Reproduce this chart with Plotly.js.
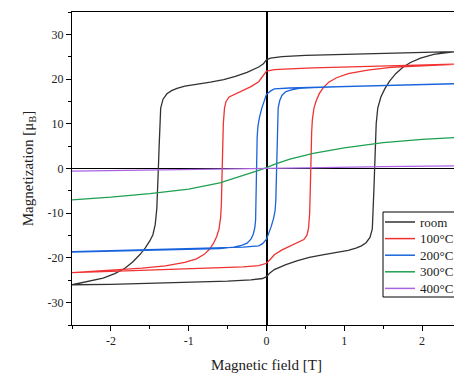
<!DOCTYPE html>
<html>
<head>
<meta charset="utf-8">
<script src="https://cdn.plot.ly/plotly-3.0.1.min.js"></script>
<style>
html, body { margin: 0; padding: 0; overflow: hidden; background: #fff; }
#chart { width: 461px; height: 373px; }
</style>
</head>
<body>
<div id="chart"></div>
<script>
// ---- data (field in T, magnetization in μB) ----
const seriesNames = ["room", "100°C", "200°C", "300°C", "400°C"];

// room temperature loop: descending branch then ascending branch
const roomDownH = [2.5, 2.0, 1.5, 1.0, 0.5, 0.2, 0.05, 0.0, -0.04, -0.1, -0.25, -0.4, -0.55, -0.72, -0.9, -1.05, -1.15, -1.22, -1.28, -1.33, -1.36, -1.37, -1.38, -1.39, -1.40, -1.41, -1.43, -1.46, -1.50, -1.56, -1.63, -1.72, -1.82, -1.95, -2.1, -2.3, -2.5];
const roomDownM = [26.2, 26.0, 25.8, 25.6, 25.3, 25.0, 24.7, 24.3, 23.4, 22.7, 21.5, 20.6, 19.9, 19.3, 18.9, 18.4, 17.9, 17.4, 16.7, 15.5, 13.5, 10.5, 5, 0, -5, -9, -12.5, -14.8, -16.2, -17.8, -19.3, -20.9, -22.3, -23.5, -24.5, -25.3, -26.0];
const roomUpH = [-2.5, -2.0, -1.5, -1.0, -0.5, -0.2, -0.05, 0.0, 0.04, 0.1, 0.25, 0.4, 0.55, 0.72, 0.9, 1.05, 1.15, 1.22, 1.28, 1.33, 1.36, 1.37, 1.38, 1.39, 1.40, 1.41, 1.43, 1.47, 1.52, 1.58, 1.66, 1.75, 1.85, 1.98, 2.15, 2.35, 2.5];
const roomUpM = [-26.0, -25.9, -25.7, -25.5, -25.2, -24.9, -24.6, -24.2, -23.4, -22.6, -21.5, -20.6, -19.9, -19.3, -18.8, -18.3, -17.8, -17.3, -16.6, -15.4, -13.5, -10.5, -5, 0, 5, 10, 13.5, 16.0, 17.8, 19.5, 21.2, 22.6, 23.7, 24.7, 25.5, 26.0, 26.2];

// 100 °C loop
const t100DownH = [2.5, 2.0, 1.5, 1.0, 0.6, 0.3, 0.1, 0.0, -0.05, -0.1, -0.2, -0.3, -0.4, -0.48, -0.52, -0.54, -0.555, -0.565, -0.57, -0.575, -0.58, -0.59, -0.61, -0.64, -0.68, -0.73, -0.8, -0.9, -1.05, -1.3, -1.6, -2.0, -2.5];
const t100DownM = [23.4, 23.2, 23.0, 22.7, 22.5, 22.3, 22.1, 21.8, 20.6, 19.4, 18.3, 17.5, 16.8, 16.0, 15.0, 13.5, 10, 5, 0, -4, -8, -11, -13.5, -15.2, -16.7, -18.0, -19.2, -20.2, -21.0, -21.8, -22.3, -22.7, -23.2];
const t100UpH = [-2.5, -2.0, -1.5, -1.0, -0.6, -0.3, -0.1, 0.0, 0.05, 0.1, 0.2, 0.3, 0.4, 0.48, 0.52, 0.54, 0.555, 0.565, 0.57, 0.575, 0.58, 0.59, 0.61, 0.64, 0.68, 0.73, 0.8, 0.9, 1.05, 1.3, 1.6, 2.0, 2.5];
const t100UpM = [-23.3, -23.0, -22.7, -22.4, -22.2, -22.0, -21.7, -21.2, -20.3, -19.3, -18.2, -17.4, -16.7, -15.9, -14.9, -13.4, -10, -5, 0, 4, 8, 11, 13.5, 15.2, 16.8, 18.1, 19.3, 20.3, 21.2, 22.0, 22.6, 23.0, 23.4];

// 200 °C loop
const t200DownH = [2.5, 2.0, 1.5, 1.0, 0.6, 0.3, 0.1, 0.05, 0.0, -0.03, -0.06, -0.09, -0.11, -0.12, -0.125, -0.13, -0.135, -0.14, -0.15, -0.17, -0.2, -0.25, -0.32, -0.42, -0.6, -1.0, -1.5, -2.0, -2.5];
const t200DownM = [19.0, 18.8, 18.6, 18.4, 18.2, 18.0, 17.8, 17.3, 16.6, 15.2, 13.5, 11.5, 9.5, 7, 2, -3, -8, -11.5, -13.2, -14.7, -15.8, -16.7, -17.2, -17.6, -17.9, -18.1, -18.3, -18.5, -18.7];
const t200UpH = [-2.5, -2.0, -1.5, -1.0, -0.6, -0.3, -0.1, -0.05, 0.0, 0.03, 0.06, 0.09, 0.11, 0.12, 0.125, 0.13, 0.135, 0.14, 0.15, 0.17, 0.2, 0.25, 0.32, 0.42, 0.6, 1.0, 1.5, 2.0, 2.5];
const t200UpM = [-18.6, -18.4, -18.2, -18.0, -17.8, -17.6, -17.3, -16.8, -15.8, -14.5, -13.0, -11.2, -9.5, -7, -2, 3, 8, 11.5, 13.5, 15.2, 16.4, 17.2, 17.6, 17.9, 18.1, 18.3, 18.5, 18.7, 19.0];

// 300 °C curve
const t300H = [-2.5, -2.0, -1.5, -1.0, -0.6, -0.3, -0.1, 0.0, 0.1, 0.3, 0.6, 1.0, 1.5, 2.0, 2.5];
const t300M = [-7.0, -6.4, -5.6, -4.6, -3.2, -1.6, -0.4, 0.2, 0.9, 2.1, 3.4, 4.6, 5.8, 6.5, 7.0];

// 400 °C curve
const t400H = [-2.5, -1.5, -0.5, 0.0, 0.5, 1.5, 2.5];
const t400M = [-0.6, -0.4, -0.15, 0.0, 0.15, 0.4, 0.6];

const xTickVals = [-2, -1, 0, 1, 2];
const xTickText = ["-2", "-1", "0", "1", "2"];
const yTickVals = [-30, -20, -10, 0, 10, 20, 30];
const yTickText = ["-30", "-20", "-10", "0", "10", "20", "30"];

// ---- styling ----
const colors = ["rgb(50,50,50)", "rgb(240,50,50)", "rgb(25,100,220)", "rgb(30,160,80)", "rgb(170,100,225)"];
const serif = "Liberation Serif";

const W = 461, H = 373;
const M = { l: 72, r: 0, t: 12, b: 48 };
const plotW = W - M.l - M.r, plotH = H - M.t - M.b;
const px = (x) => (x - M.l) / plotW;          // pixel -> paper x
const py = (y) => (H - M.b - y) / plotH;      // pixel -> paper y

function mk(name, x, y, color) {
  return { type: "scatter", mode: "lines", name: name, x: x, y: y,
           line: { color: color, width: 1.3 }, showlegend: false };
}

const traces = [
  mk(seriesNames[0], roomDownH.concat(roomUpH), roomDownM.concat(roomUpM), colors[0]),
  mk(seriesNames[1], t100DownH.concat(t100UpH), t100DownM.concat(t100UpM), colors[1]),
  mk(seriesNames[2], t200DownH.concat(t200UpH), t200DownM.concat(t200UpM), colors[2]),
  mk(seriesNames[3], t300H, t300M, colors[3]),
  mk(seriesNames[4], t400H, t400M, colors[4])
];

// compact legend box (drawn in paper coordinates)
const shapes = [{
  type: "rect", xref: "paper", yref: "paper",
  x0: px(383), x1: px(470), y0: py(297), y1: py(212),
  line: { color: "#000", width: 1 }, fillcolor: "#fff", layer: "above"
}];
const annotations = [];
seriesNames.forEach((n, i) => {
  const yRow = 222 + i * 16.6;
  shapes.push({ type: "line", xref: "paper", yref: "paper",
    x0: px(385), x1: px(415), y0: py(yRow), y1: py(yRow),
    line: { color: colors[i], width: 1.5 }, layer: "above" });
  annotations.push({ xref: "paper", yref: "paper", x: px(418), y: py(yRow),
    xanchor: "left", yanchor: "middle", showarrow: false, text: n,
    font: { family: serif, size: 13, color: "#222" } });
});

const layout = {
  width: W, height: H,
  margin: M,
  paper_bgcolor: "#fff", plot_bgcolor: "#fff",
  font: { family: serif, color: "#222", size: 12 },
  showlegend: false,
  shapes: shapes,
  annotations: annotations,
  xaxis: {
    range: [-2.5, 2.5], tickmode: "array", tickvals: xTickVals, ticktext: xTickText,
    ticks: "outside", ticklen: 5, tickwidth: 1, tickcolor: "#000",
    minor: { dtick: 0.5, ticks: "outside", ticklen: 3, tickcolor: "#000", showgrid: false },
    showline: true, linecolor: "#000", linewidth: 1, mirror: true,
    showgrid: false, zeroline: true, zerolinecolor: "#000", zerolinewidth: 2,
    tickfont: { family: serif, size: 12, color: "#222" },
    title: { text: "Magnetic field [T]", font: { family: serif, size: 15, color: "#222" }, standoff: 17 }
  },
  yaxis: {
    range: [-35, 35], tickmode: "array", tickvals: yTickVals, ticktext: yTickText,
    ticks: "outside", ticklen: 5, tickwidth: 1, tickcolor: "#000",
    minor: { dtick: 5, ticks: "outside", ticklen: 3, tickcolor: "#000", showgrid: false },
    showline: true, linecolor: "#000", linewidth: 1, mirror: false,
    showgrid: false, zeroline: true, zerolinecolor: "#000", zerolinewidth: 1.5,
    tickfont: { family: serif, size: 12, color: "#222" },
    title: { text: "Magnetization [μ<sub>B</sub>]", font: { family: serif, size: 15, color: "#222" }, standoff: 10 }
  }
};

Plotly.newPlot("chart", traces, layout, { displayModeBar: false, staticPlot: true });
</script>
</body>
</html>
